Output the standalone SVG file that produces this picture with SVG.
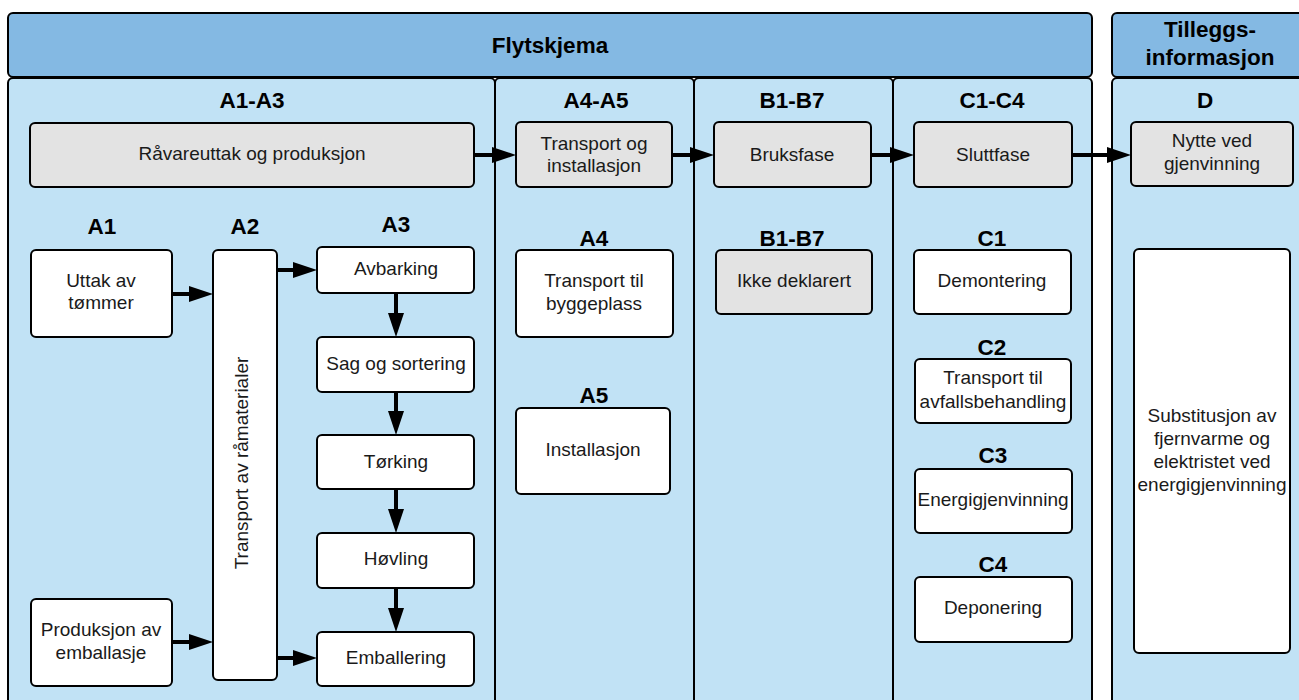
<svg xmlns="http://www.w3.org/2000/svg" width="1299" height="700" viewBox="0 0 1299 700">
<style>
  .hdr { fill: #84b9e3; stroke: #000; stroke-width: 2; }
  .pnl { fill: #c1e2f5; stroke: #000; stroke-width: 2; }
  .box { fill: #fff; stroke: #000; stroke-width: 2; }
  .gry { fill: #e3e3e3; stroke: #000; stroke-width: 2; }
  .t { font-family: "Liberation Sans", Arial, sans-serif; font-size: 19px; fill: #1a1a1a; text-anchor: middle; }
  .b { font-family: "Liberation Sans", Arial, sans-serif; font-size: 22.5px; font-weight: bold; fill: #000; text-anchor: middle; }
  .arr { stroke: #000; stroke-width: 4; fill: none; marker-end: url(#ah); }
</style>
<defs>
  <marker id="ah" viewBox="0 0 24 16" refX="14" refY="8" markerWidth="24" markerHeight="16" markerUnits="userSpaceOnUse" orient="auto">
    <path d="M0,0 L24,8 L0,16 Z" fill="#000"/>
  </marker>
</defs>
<rect width="1299" height="700" fill="#fff"/>

<g id="header-flytskjema">
  <rect class="hdr" x="8" y="13" width="1084" height="64" rx="5"/>
  <text class="b" x="550" y="53">Flytskjema</text>
</g>
<g id="header-tillegg">
  <rect class="hdr" x="1112" y="13" width="196" height="64" rx="5"/>
  <text class="b" x="1210" y="37">Tilleggs-</text>
  <text class="b" x="1210" y="65">informasjon</text>
</g>

<g id="col-A1-A3">
  <rect class="pnl" x="8" y="78" width="487" height="640" rx="5"/>
  <text class="b" x="252" y="108">A1-A3</text>
</g>
<g id="col-A4-A5">
  <rect class="pnl" x="495" y="78" width="199" height="640" rx="5"/>
  <text class="b" x="596" y="108">A4-A5</text>
</g>
<g id="col-B1-B7">
  <rect class="pnl" x="694" y="78" width="199" height="640" rx="5"/>
  <text class="b" x="792" y="108">B1-B7</text>
</g>
<g id="col-C1-C4">
  <rect class="pnl" x="893" y="78" width="199" height="640" rx="5"/>
  <text class="b" x="992" y="108">C1-C4</text>
</g>
<g id="col-D">
  <rect class="pnl" x="1112" y="78" width="196" height="640" rx="5"/>
  <text class="b" x="1205" y="108">D</text>
</g>

<g id="raavareuttak">
  <rect class="gry" x="30" y="123" width="444" height="64" rx="5"/>
  <text class="t" x="252" y="160">Råvareuttak og produksjon</text>
</g>
<g id="transport-installasjon">
  <rect class="gry" x="516" y="122" width="156" height="65" rx="5"/>
  <text class="t" x="594" y="150">Transport og</text>
  <text class="t" x="594" y="172">installasjon</text>
</g>
<g id="bruksfase">
  <rect class="gry" x="714" y="122" width="157" height="65" rx="5"/>
  <text class="t" x="792" y="161">Bruksfase</text>
</g>
<g id="sluttfase">
  <rect class="gry" x="914" y="122" width="158" height="65" rx="5"/>
  <text class="t" x="993" y="161">Sluttfase</text>
</g>
<g id="nytte">
  <rect class="gry" x="1131" y="122" width="162" height="64" rx="5"/>
  <text class="t" x="1212" y="147">Nytte ved</text>
  <text class="t" x="1212" y="170">gjenvinning</text>
</g>

<g id="label-A1"><text class="b" x="102" y="234">A1</text></g>
<g id="label-A2"><text class="b" x="245" y="234">A2</text></g>
<g id="label-A3"><text class="b" x="396" y="232">A3</text></g>

<g id="uttak">
  <rect class="box" x="31" y="250" width="141" height="87" rx="5"/>
  <text class="t" x="101" y="287">Uttak av</text>
  <text class="t" x="101" y="309">tømmer</text>
</g>
<g id="produksjon-emballasje">
  <rect class="box" x="31" y="599" width="141" height="87" rx="5"/>
  <text class="t" x="101" y="636">Produksjon av</text>
  <text class="t" x="101" y="659">emballasje</text>
</g>
<g id="transport-raamaterialer">
  <rect class="box" x="213" y="250" width="64" height="430" rx="5"/>
  <text class="t" transform="translate(248,463) rotate(-90)" x="0" y="0">Transport av råmaterialer</text>
</g>
<g id="avbarking">
  <rect class="box" x="317" y="247" width="157" height="46" rx="5"/>
  <text class="t" x="396" y="275">Avbarking</text>
</g>
<g id="sag">
  <rect class="box" x="317" y="337" width="157" height="55" rx="5"/>
  <text class="t" x="396" y="370">Sag og sortering</text>
</g>
<g id="torking">
  <rect class="box" x="317" y="435" width="157" height="54" rx="5"/>
  <text class="t" x="396" y="468">Tørking</text>
</g>
<g id="hovling">
  <rect class="box" x="317" y="533" width="157" height="55" rx="5"/>
  <text class="t" x="396" y="565">Høvling</text>
</g>
<g id="emballering">
  <rect class="box" x="317" y="632" width="157" height="54" rx="5"/>
  <text class="t" x="396" y="664">Emballering</text>
</g>

<g id="label-A4"><text class="b" x="594" y="246">A4</text></g>
<g id="transport-byggeplass">
  <rect class="box" x="516" y="250" width="157" height="87" rx="5"/>
  <text class="t" x="594" y="287">Transport til</text>
  <text class="t" x="594" y="310">byggeplass</text>
</g>
<g id="label-A5"><text class="b" x="594" y="403">A5</text></g>
<g id="installasjon">
  <rect class="box" x="516" y="408" width="154" height="86" rx="5"/>
  <text class="t" x="593" y="456">Installasjon</text>
</g>

<g id="label-B1-B7"><text class="b" x="792" y="246">B1-B7</text></g>
<g id="ikke-deklarert">
  <rect class="gry" x="716" y="250" width="156" height="64" rx="5"/>
  <text class="t" x="794" y="287">Ikke deklarert</text>
</g>

<g id="label-C1"><text class="b" x="992" y="246">C1</text></g>
<g id="demontering">
  <rect class="box" x="914" y="250" width="157" height="64" rx="5"/>
  <text class="t" x="992" y="287">Demontering</text>
</g>
<g id="label-C2"><text class="b" x="992" y="355">C2</text></g>
<g id="transport-avfall">
  <rect class="box" x="915" y="359" width="156" height="64" rx="5"/>
  <text class="t" x="993" y="384">Transport til</text>
  <text class="t" x="993" y="408">avfallsbehandling</text>
</g>
<g id="label-C3"><text class="b" x="993" y="463">C3</text></g>
<g id="energigjenvinning">
  <rect class="box" x="915" y="469" width="157" height="64" rx="5"/>
  <text class="t" x="993" y="506">Energigjenvinning</text>
</g>
<g id="label-C4"><text class="b" x="993" y="572">C4</text></g>
<g id="deponering">
  <rect class="box" x="915" y="577" width="157" height="65" rx="5"/>
  <text class="t" x="993" y="614">Deponering</text>
</g>

<g id="substitusjon">
  <rect class="box" x="1134" y="249" width="156" height="404" rx="5"/>
  <text class="t" x="1212" y="422">Substitusjon av</text>
  <text class="t" x="1212" y="445">fjernvarme og</text>
  <text class="t" x="1212" y="468">elektristet ved</text>
  <text class="t" x="1212" y="491">energigjenvinning</text>
</g>

<g id="connectors">
  <line class="arr" x1="474" y1="155" x2="506" y2="155"/>
  <line class="arr" x1="672" y1="155" x2="704" y2="155"/>
  <line class="arr" x1="871" y1="155" x2="904" y2="155"/>
  <line class="arr" x1="1072" y1="155" x2="1121" y2="155"/>
  <line class="arr" x1="172" y1="294" x2="203" y2="294"/>
  <line class="arr" x1="277" y1="270" x2="307" y2="270"/>
  <line class="arr" x1="172" y1="642" x2="203" y2="642"/>
  <line class="arr" x1="277" y1="658" x2="307" y2="658"/>
  <line class="arr" x1="396" y1="293" x2="396" y2="327"/>
  <line class="arr" x1="396" y1="392" x2="396" y2="425"/>
  <line class="arr" x1="396" y1="489" x2="396" y2="523"/>
  <line class="arr" x1="396" y1="588" x2="396" y2="622"/>
</g>
</svg>
